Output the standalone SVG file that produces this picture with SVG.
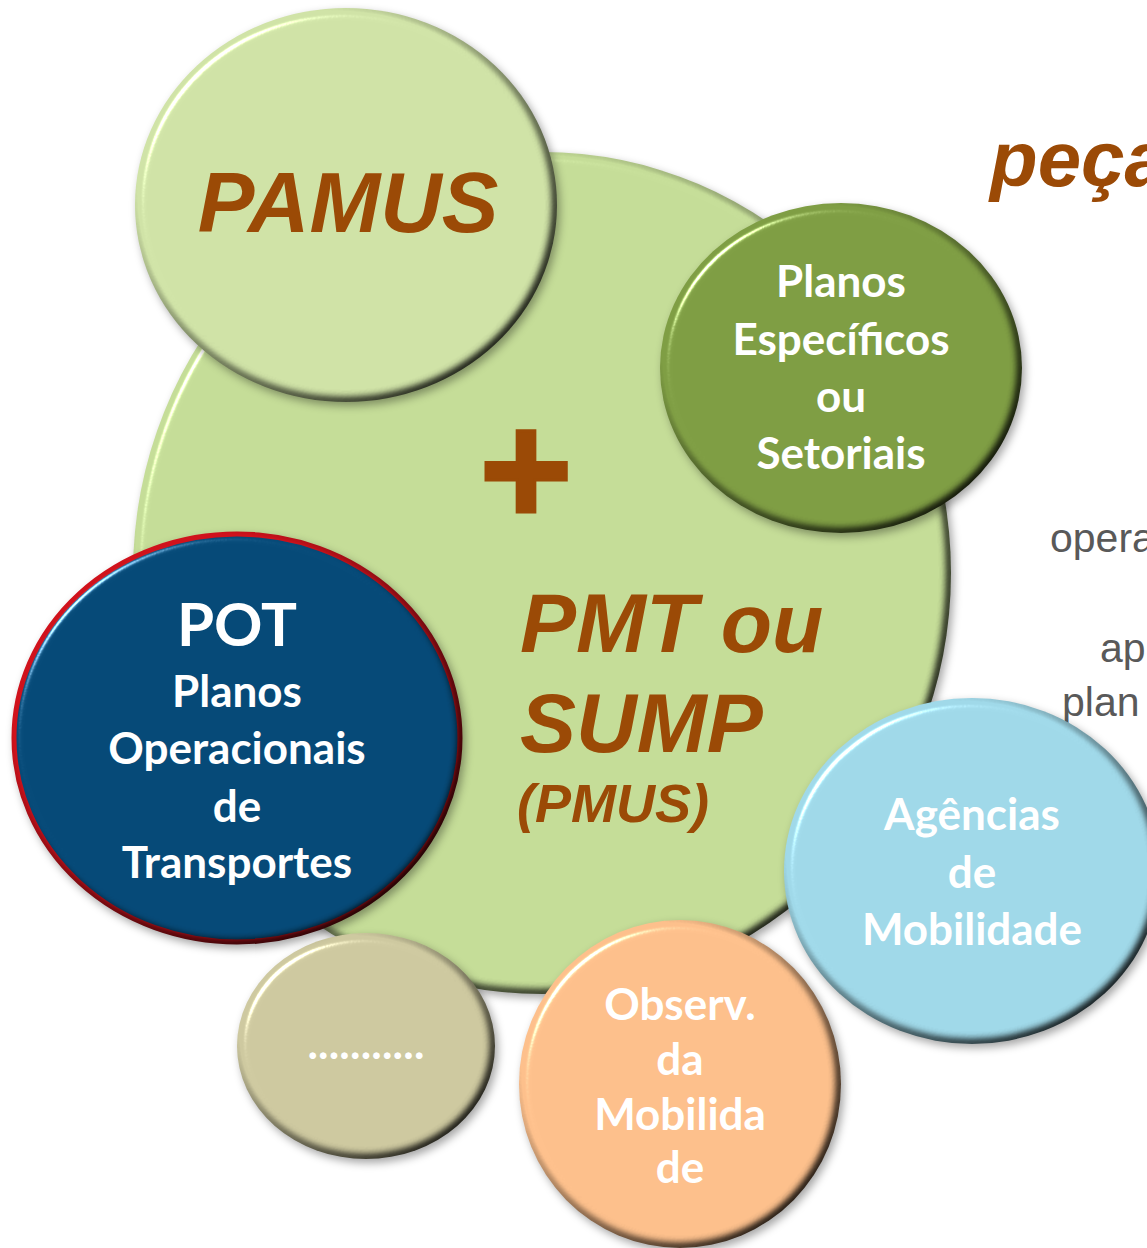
<svg xmlns="http://www.w3.org/2000/svg" width="1147" height="1248" viewBox="0 0 1147 1248">
  <style>
    .brown { fill: #9b4a06; font-family: "Liberation Sans", Arial, sans-serif; font-weight: bold; font-style: italic; }
    .label { fill: #ffffff; font-family: Lato, "Noto Sans", sans-serif; font-weight: bold; font-size: 44px; text-anchor: middle; }
    .label.big { font-size: 60px; }
    .grey { fill: #595959; font-family: "Liberation Sans", Arial, sans-serif; font-size: 41px; }
    .disc { filter: url(#bevel); }
  </style>
  <defs>
    <!-- soft bevel: blurred alpha used as a height map, lit from top-left, plus a small drop shadow -->
    <filter id="bevel" x="-8%" y="-8%" width="116%" height="116%" color-interpolation-filters="sRGB">
      <feGaussianBlur in="SourceAlpha" stdDeviation="5" result="height"/>
      <feDiffuseLighting in="height" surfaceScale="7" diffuseConstant="1.155" lighting-color="#ffffff" result="diffuse">
        <feDistantLight azimuth="225" elevation="60"/>
      </feDiffuseLighting>
      <feComposite in="SourceGraphic" in2="diffuse" operator="arithmetic" k1="1" result="shaded"/>
      <feSpecularLighting in="height" surfaceScale="7" specularConstant="0.9" specularExponent="80" lighting-color="#ffffff" result="spec">
        <feDistantLight azimuth="225" elevation="45"/>
      </feSpecularLighting>
      <feComposite in="spec" in2="SourceAlpha" operator="in" result="specIn"/>
      <feComposite in="shaded" in2="specIn" operator="arithmetic" k2="1" k3="1" result="lit"/>
      <feGaussianBlur in="SourceAlpha" stdDeviation="4" result="sblur"/>
      <feOffset in="sblur" dx="3" dy="4" result="soff"/>
      <feFlood flood-color="#000000" flood-opacity="0.35"/>
      <feComposite in2="soff" operator="in" result="shadow"/>
      <feMerge>
        <feMergeNode in="shadow"/>
        <feMergeNode in="lit"/>
      </feMerge>
    </filter>
  </defs>

  <rect width="1147" height="1248" fill="#ffffff"/>

  <!-- background slide text, partly hidden by the discs -->
  <g id="side-text">
    <text class="brown" x="990" y="186" font-size="78">peça</text>
    <text class="grey" x="1050" y="552">opera</text>
    <text class="grey" x="1100" y="662">ap</text>
    <text class="grey" x="1062" y="716">plan</text>
  </g>

  <g id="connectors"/>

  <g id="n-pmt">
    <ellipse class="disc" cx="542" cy="573" rx="409" ry="421" fill="#c5dd98"/>
    <text class="brown" x="520" y="652" font-size="84">PMT ou</text>
    <text class="brown" x="520" y="752" font-size="84">SUMP</text>
    <text class="brown" x="517" y="822" font-size="54">(PMUS)</text>
    <text class="brown" x="523" y="525" font-size="160" text-anchor="middle" font-style="normal" stroke="#9b4a06" stroke-width="3">+</text>
  </g>

  <g id="n-pamus">
    <ellipse class="disc" cx="346" cy="205" rx="211" ry="197" fill="#d0e3a7"/>
    <text class="brown" x="348" y="232" font-size="85" text-anchor="middle">PAMUS</text>
  </g>

  <g id="n-especificos">
    <ellipse class="disc" cx="841" cy="368" rx="181" ry="165" fill="#7f9e44"/>
    <text class="label" x="841" y="297">Planos</text>
    <text class="label" x="841" y="355">Específicos</text>
    <text class="label" x="841" y="412">ou</text>
    <text class="label" x="841" y="469">Setoriais</text>
  </g>

  <g id="n-outros">
    <ellipse class="disc" cx="366" cy="1046" rx="129" ry="113" fill="#cec9a0"/>
    <text class="label" x="366" y="1059" letter-spacing="0.2">...........</text>
  </g>

  <g id="n-pot">
    <ellipse class="disc" cx="237" cy="738" rx="223" ry="204" fill="#064a78" stroke="#d0121c" stroke-width="5"/>
    <text class="label big" x="237" y="646">POT</text>
    <text class="label" x="237" y="707">Planos</text>
    <text class="label" x="237" y="764">Operacionais</text>
    <text class="label" x="237" y="822">de</text>
    <text class="label" x="237" y="878">Transportes</text>
  </g>

  <g id="n-agencias">
    <ellipse class="disc" cx="972" cy="871" rx="188" ry="173" fill="#a0d9e9"/>
    <text class="label" x="972" y="830">Agências</text>
    <text class="label" x="972" y="888">de</text>
    <text class="label" x="972" y="945">Mobilidade</text>
  </g>

  <g id="n-observatorio">
    <ellipse class="disc" cx="680" cy="1084" rx="161" ry="164" fill="#fdc08c"/>
    <text class="label" x="680" y="1020">Observ.</text>
    <text class="label" x="680" y="1075">da</text>
    <text class="label" x="680" y="1130">Mobilida</text>
    <text class="label" x="680" y="1183">de</text>
  </g>
</svg>
